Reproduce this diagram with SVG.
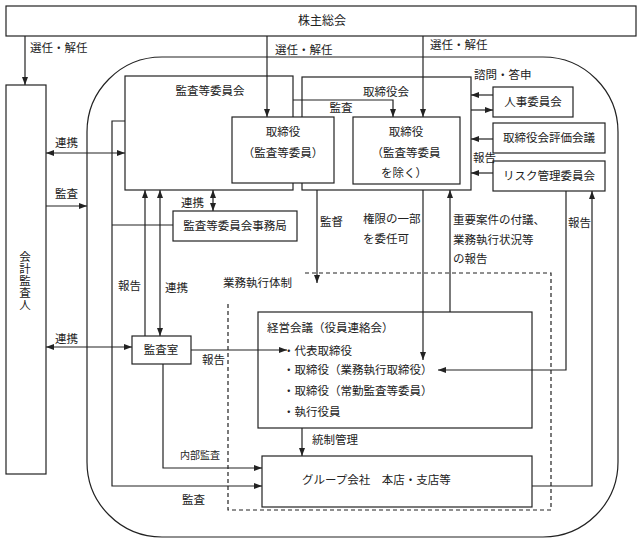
<svg xmlns="http://www.w3.org/2000/svg" width="640" height="544" viewBox="0 0 640 544">
<style>
.box{fill:#fff;stroke:#222;stroke-width:1.2}
.ln{fill:none;stroke:#222;stroke-width:1.2}
.dash{fill:none;stroke:#222;stroke-width:1.2;stroke-dasharray:4 3}
text{font-family:"Liberation Serif","Noto Sans CJK JP",serif;font-size:11.5px;fill:#222}
.c{text-anchor:middle}
.s{font-size:10px}
</style>
<defs>
<marker id="ah" viewBox="0 0 8 6" refX="8" refY="3" markerWidth="8" markerHeight="6" markerUnits="userSpaceOnUse" orient="auto-start-reverse">
<path d="M0,0 L8,3 L0,6 z" fill="#222"/>
</marker>
</defs>
<rect width="640" height="544" fill="#fff"/>

<g id="group-outer">
<rect x="87" y="57" width="531" height="480" rx="75" ry="75" class="box"/>
</g>

<g id="kabunushi-sokai">
<rect x="6" y="6" width="630" height="30" class="box"/>
<text x="322" y="25" class="c" style="font-size:12px">株主総会</text>
</g>

<g id="kaikei-kansanin">
<rect x="6" y="85" width="40" height="389" class="box"/>
<text x="25" y="261" class="c">会</text>
<text x="25" y="273" class="c">計</text>
<text x="25" y="285" class="c">監</text>
<text x="25" y="297" class="c">査</text>
<text x="25" y="309" class="c">人</text>
</g>

<g id="kansa-iinkai">
<rect x="125" y="76" width="168" height="114" class="box"/>
<text x="210" y="95" class="c">監査等委員会</text>
</g>

<g id="torishimariyakukai">
<rect x="302" y="77" width="169" height="113" class="box"/>
<text x="386" y="96" class="c">取締役会</text>
</g>

<g id="gyomu-shikko-taisei">
<path d="M305,273 H551 V510 H228 V302" class="dash"/>
<text x="223" y="287">業務執行体制</text>
</g>

<g id="torishimariyaku-kansa">
<rect x="232" y="117" width="102" height="66" class="box"/>
<text x="283" y="136" class="c">取締役</text>
<text x="283" y="157" class="c">（監査等委員）</text>
</g>

<g id="torishimariyaku-other">
<rect x="353" y="117" width="107" height="67" class="box"/>
<text x="406" y="136" class="c">取締役</text>
<text x="406" y="157" class="c">（監査等委員</text>
<text x="404" y="177" class="c">を除く）</text>
</g>

<g id="jinji-iinkai">
<rect x="493" y="87" width="80" height="30" class="box"/>
<text x="533" y="106" class="c">人事委員会</text>
</g>

<g id="hyoka-kaigi">
<rect x="493" y="123" width="112" height="30" class="box"/>
<text x="549" y="142" class="c">取締役会評価会議</text>
</g>

<g id="risk-iinkai">
<rect x="493" y="161" width="112" height="30" class="box"/>
<text x="549" y="180" class="c">リスク管理委員会</text>
</g>

<g id="jimukyoku">
<rect x="173" y="211" width="124" height="30" class="box"/>
<text x="235" y="230" class="c">監査等委員会事務局</text>
</g>

<g id="kansashitsu">
<rect x="132" y="336" width="59" height="28" class="box"/>
<text x="161" y="354" class="c">監査室</text>
</g>

<g id="keiei-kaigi">
<rect x="258" y="312" width="274" height="116" class="box"/>
<text x="267" y="332">経営会議（役員連絡会）</text>
<text x="283" y="355">・代表取締役</text>
<text x="283" y="374">・取締役（業務執行取締役）</text>
<text x="283" y="395">・取締役（常勤監査等委員）</text>
<text x="283" y="416">・執行役員</text>
</g>

<g id="group-company">
<rect x="262" y="456" width="270" height="51" class="box"/>
<text x="302" y="484">グループ会社　本店・支店等</text>
</g>

<g id="connectors">
<!-- 選任・解任 -->
<path d="M25,36 V85" class="ln" marker-end="url(#ah)"/>
<path d="M267,36 V117" class="ln" marker-end="url(#ah)"/>
<path d="M423,36 V117" class="ln" marker-end="url(#ah)"/>
<text x="30" y="52">選任・解任</text>
<text x="275" y="54">選任・解任</text>
<text x="430" y="49">選任・解任</text>

<!-- 監査 監査等委員会→取締役 -->
<path d="M293,100 H393 V117" class="ln" marker-end="url(#ah)"/>
<text x="341" y="112" class="c">監査</text>

<!-- 委員会 -->
<path d="M493,95 H471" class="ln" marker-end="url(#ah)"/>
<path d="M471,110 H493" class="ln" marker-end="url(#ah)"/>
<path d="M493,139 H471" class="ln" marker-end="url(#ah)"/>
<path d="M493,173 H471" class="ln" marker-end="url(#ah)"/>
<text x="474" y="79">諮問・答申</text>
<text x="473" y="162">報告</text>

<!-- 会計監査人 -->
<path d="M46,153 H125" class="ln" marker-start="url(#ah)" marker-end="url(#ah)"/>
<text x="55" y="147">連携</text>
<path d="M46,206 H87" class="ln" marker-end="url(#ah)"/>
<text x="55" y="198">監査</text>
<path d="M46,347 H132" class="ln" marker-start="url(#ah)" marker-end="url(#ah)"/>
<text x="55" y="343">連携</text>

<!-- 事務局 -->
<path d="M213,190 V211" class="ln" marker-start="url(#ah)" marker-end="url(#ah)"/>
<text x="181" y="207">連携</text>
<path d="M125,121 H112 V486 H262" class="ln" marker-end="url(#ah)"/>
<path d="M112,225 H173" class="ln"/>
<text x="182" y="504">監査</text>

<!-- 監査室 -->
<path d="M145,336 V190" class="ln" marker-end="url(#ah)"/>
<text x="118" y="290">報告</text>
<path d="M160,190 V336" class="ln" marker-start="url(#ah)" marker-end="url(#ah)"/>
<text x="165" y="292">連携</text>
<path d="M191,350 H287" class="ln" marker-end="url(#ah)"/>
<text x="202" y="364">報告</text>
<path d="M163,364 V468 H262" class="ln" marker-end="url(#ah)"/>
<text x="180" y="459" class="s">内部監査</text>

<!-- 取締役会 下 -->
<path d="M317,190 V283" class="ln" marker-end="url(#ah)"/>
<text x="320" y="226">監督</text>
<path d="M423,190 V360" class="ln" marker-end="url(#ah)"/>
<text x="363" y="223">権限の一部</text>
<text x="363" y="243">を委任可</text>
<path d="M450,312 V190" class="ln" marker-end="url(#ah)"/>
<text x="453" y="224">重要案件の付議、</text>
<text x="453" y="244">業務執行状況等</text>
<text x="453" y="263">の報告</text>

<!-- リスク管理委員会 -->
<path d="M566,191 V370 H438" class="ln" marker-end="url(#ah)"/>
<path d="M532,486 H592 V191" class="ln" marker-end="url(#ah)"/>
<text x="568" y="227">報告</text>

<!-- 統制管理 -->
<path d="M302,428 V456" class="ln" marker-end="url(#ah)"/>
<text x="312" y="444">統制管理</text>
</g>
</svg>
